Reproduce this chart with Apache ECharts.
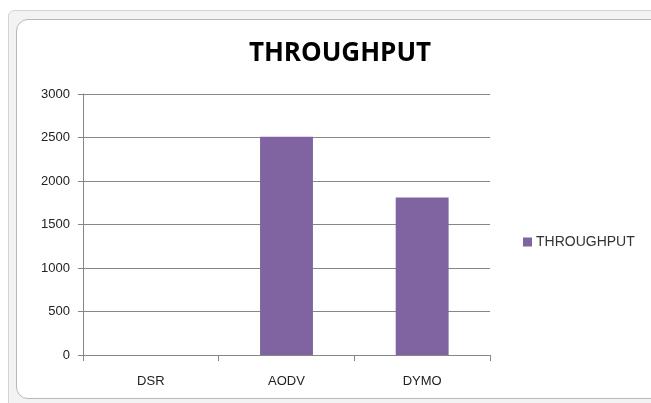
<!DOCTYPE html>
<html>
<head>
<meta charset="utf-8">
<script src="https://cdn.jsdelivr.net/npm/echarts@6/dist/echarts.min.js"></script>
<style>
  html, body { margin: 0; padding: 0; background: #fff; }
  #sheet { position: absolute; left: 8px; top: 10px; width: 660px; height: 400px; border: 1px solid #d4d4d4; border-radius: 6px; background: #f3f3f3; }
  #frame { position: absolute; left: 16px; top: 19px; width: 650px; height: 378px; border: 1px solid #b8b8b8; border-radius: 12px; background: #fff; }
  #chart { position: absolute; left: 0; top: 0; width: 651px; height: 403px; }
</style>
</head>
<body>
<div id="sheet"></div>
<div id="frame"></div>
<div id="chart"></div>
<script>
// protocols on the x axis
const protocols = ['DSR', 'AODV', 'DYMO'];
// throughput values
const throughput = [0, 2510, 1810];
const seriesName = 'THROUGHPUT';

let chartDom = document.getElementById('chart');
let myChart = echarts.init(chartDom, null, { renderer: 'canvas' });

let option = {
  animation: false,
  title: {
    text: 'THROUGHPUT',
    left: 335,
    textAlign: 'center',
    top: 36,
    textStyle: { fontFamily: 'Open Sans', fontWeight: 'bold', fontSize: 26, color: '#000' },
  },
  legend: {
    data: [seriesName],
    left: 518,
    top: 230,
    itemWidth: 9,
    itemHeight: 9,
    itemGap: 4,
    icon: 'rect',
    textStyle: { fontFamily: 'Liberation Sans', fontSize: 14, color: '#333', padding: [0, 0, 0, -1] },
  },
  grid: { left: 83, right: 161, top: 94, bottom: 48 },
  xAxis: {
    type: 'category',
    data: protocols,
    axisLine: { lineStyle: { color: '#868686' } },
    axisTick: { show: true, length: 6, lineStyle: { color: '#868686' } },
    axisLabel: { fontFamily: 'Liberation Sans', fontSize: 13, color: '#222', margin: 20 },
  },
  yAxis: {
    type: 'value',
    min: 0,
    max: 3000,
    interval: 500,
    axisLine: { show: true, lineStyle: { color: '#868686' } },
    axisTick: { show: true, length: 5, lineStyle: { color: '#868686' } },
    axisLabel: { fontFamily: 'Liberation Sans', fontSize: 13, color: '#222', margin: 13, formatter: v => String(v) },
    splitLine: { lineStyle: { color: '#868686' } },
  },
  series: [
    {
      name: seriesName,
      type: 'bar',
      data: throughput,
      barWidth: '39%',
      itemStyle: { color: '#8064A2' },
    },
  ],
};
myChart.setOption(option);
</script>
</body>
</html>
